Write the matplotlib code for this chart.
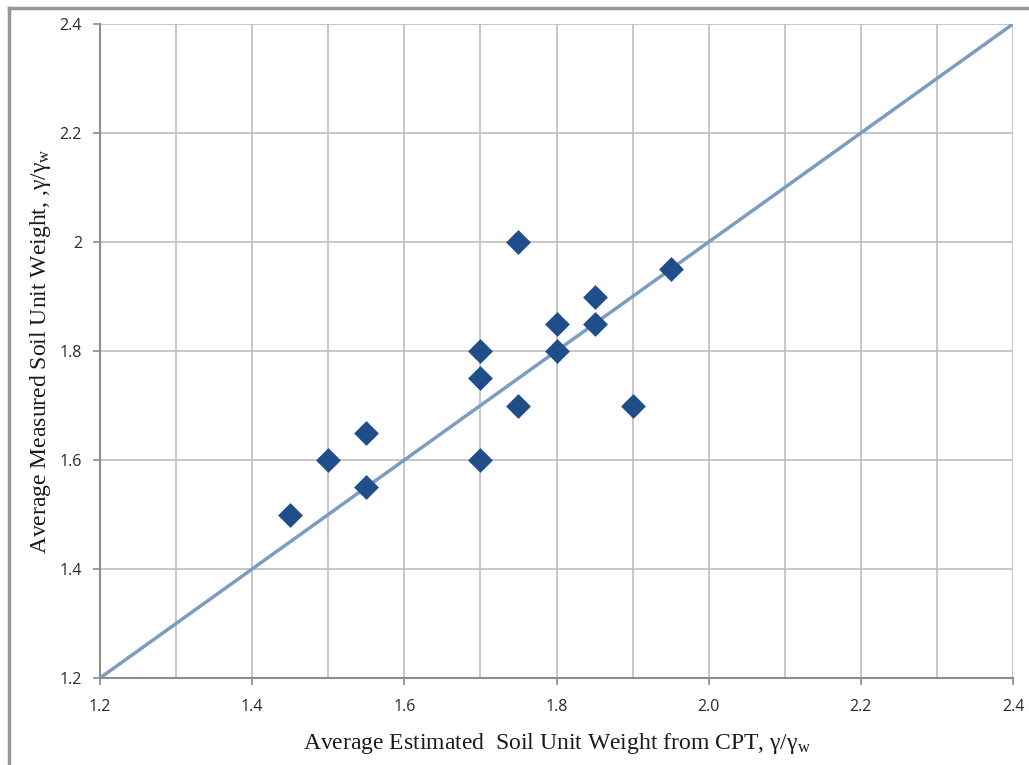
import matplotlib
matplotlib.use("Agg")
import matplotlib.pyplot as plt
from matplotlib.lines import Line2D

plt.rcParams["mathtext.fontset"] = "custom"
plt.rcParams["mathtext.rm"] = "Liberation Serif"
plt.rcParams["mathtext.it"] = "Liberation Serif"
plt.rcParams["mathtext.default"] = "rm"

est = [1.45, 1.50, 1.55, 1.55, 1.70, 1.70, 1.70, 1.75, 1.75, 1.80, 1.80, 1.85, 1.85, 1.90, 1.95]
meas = [1.50, 1.60, 1.65, 1.55, 1.80, 1.75, 1.60, 2.00, 1.70, 1.85, 1.80, 1.90, 1.85, 1.70, 1.95]
line_x = [1.2, 2.4]
line_y = [1.2, 2.4]
xticks = [1.2, 1.4, 1.6, 1.8, 2.0, 2.2, 2.4]
xticklabels = ["1.2", "1.4", "1.6", "1.8", "2.0", "2.2", "2.4"]
xminor = [1.3, 1.5, 1.7, 1.9, 2.1, 2.3]
yticks = [1.2, 1.4, 1.6, 1.8, 2.0, 2.2, 2.4]
yticklabels = ["1.2", "1.4", "1.6", "1.8", "2", "2.2", "2.4"]

W, H = 1029, 765
fig = plt.figure(figsize=(W / 100, H / 100), dpi=100)
left, right, top, bottom = 100, 1013, 24, 678
ax = fig.add_axes([left / W, 1 - bottom / H, (right - left) / W, (bottom - top) / H])

grid_c = "#bdbdbd"
axis_c = "#8c8c8c"
for x in xticks[1:] + xminor:
    ax.axvline(x, color=grid_c, lw=1.2, zorder=0)
for y in yticks[1:]:
    ax.axhline(y, color=grid_c, lw=1.2, zorder=0)

ax.plot(line_x, line_y, color="#7c9cc2", lw=2.5, zorder=2, solid_capstyle="butt")
ax.scatter(est, meas, marker="D", s=160, color="#1f4e8a", zorder=3, linewidths=0)

ax.set_xlim(1.2, 2.4)
ax.set_ylim(1.2, 2.4)
ax.set_xticks(xticks)
ax.set_xticklabels(xticklabels)
ax.set_yticks(yticks)
ax.set_yticklabels(yticklabels)
for s in ["top", "right"]:
    ax.spines[s].set_visible(False)
for s in ["left", "bottom"]:
    ax.spines[s].set_color(axis_c)
    ax.spines[s].set_linewidth(1.5)
ax.tick_params(axis="both", direction="out", length=5, width=1.2, color=axis_c,
               labelsize=11.5, labelcolor="#2a2a2a")
ax.tick_params(axis="x", pad=10)
ax.tick_params(axis="y", pad=8)
for lab in ax.get_xticklabels() + ax.get_yticklabels():
    lab.set_family(["Open Sans", "DejaVu Sans"])

ax.set_xlabel(r"Average Estimated  Soil Unit Weight from CPT, γ/γ$_\mathrm{w}$",
              family="Liberation Serif", fontsize=17, labelpad=12, color="#1a1a1a")
ax.set_ylabel(r"Average Measured Soil Unit Weight, ,γ/γ$_\mathrm{w}$",
              family="Liberation Serif", fontsize=17, labelpad=5, color="#1a1a1a")

# outer frame (left and top edges)
fig.add_artist(Line2D([8.5 / W, 8.5 / W], [0, 1 - 8 / H], transform=fig.transFigure,
                      color="#999999", lw=2.5))
fig.add_artist(Line2D([8.5 / W, 1], [1 - 8 / H, 1 - 8 / H], transform=fig.transFigure,
                      color="#999999", lw=2.5))

fig.savefig("out.png", dpi=100)
